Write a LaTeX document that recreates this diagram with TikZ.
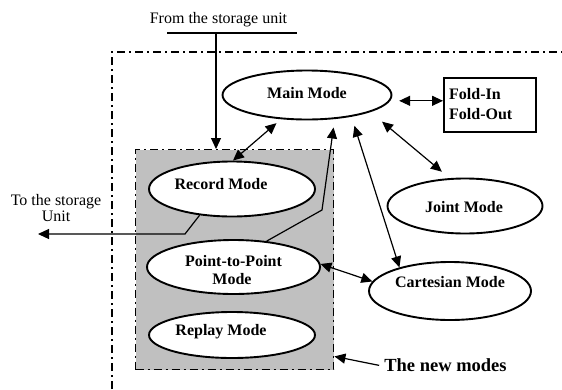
\documentclass[tikz,border=0pt]{standalone}
\usepackage{fontspec}
\setmainfont{Liberation Serif}
\usetikzlibrary{arrows.meta,shapes.geometric,calc}
\definecolor{shade}{RGB}{192,192,192}
\begin{document}
\begin{tikzpicture}[x=1pt,y=-1pt,
  font=\fontsize{16}{19}\selectfont,
  mode/.style={ellipse, draw, line width=1.9pt, fill=white, inner sep=0pt},
  txt/.style={anchor=base, inner sep=0pt, font=\fontsize{16}{19}\selectfont\bfseries},
  plain/.style={anchor=base, inner sep=0pt},
  conn/.style={line width=1.2pt},
  arr/.style={conn, -{Triangle[length=11pt,width=10pt]}},
  darr/.style={conn, {Triangle[length=11pt,width=10pt]}-{Triangle[length=11pt,width=10pt]}},
  dashdot/.style={dash pattern=on 8pt off 4pt on 2pt off 4pt, line width=1.4pt}
]
\useasboundingbox (0,0) rectangle (562,389);

% outer frame (only left and top edges visible)
\draw[dashdot] (112,389) -- (112,52) -- (562,52);

% shaded region of new modes
\node[draw, dashdot, fill=shade, minimum width=198pt, minimum height=220pt, inner sep=0pt, anchor=north west] (newbox) at (135,149) {};

% ellipses
\node[mode, minimum width=169pt, minimum height=49pt] (main) at (307,95) {};
\node[mode, minimum width=166pt, minimum height=55pt] (rec) at (232,189) {};
\node[mode, minimum width=173pt, minimum height=54pt] (ptp) at (233.5,267) {};
\node[mode, minimum width=166pt, minimum height=46pt] (rep) at (232,335) {};
\node[mode, minimum width=155pt, minimum height=55pt] (joint) at (465,206) {};
\node[mode, minimum width=162pt, minimum height=58pt] (cart) at (450,291) {};

% fold box
\node[draw, line width=1.9pt, minimum width=92pt, minimum height=54pt, inner sep=0pt, anchor=north west] (fold) at (443,77) {};

% texts
\node[txt] (mainT) at (307,98) {Main Mode};
\node[txt] (recT) at (221,189) {Record Mode};
\node[txt] (ptpT1) at (233.5,266) {Point-to-Point};
\node[txt] (ptpT2) at (232,284) {Mode};
\node[txt] (repT) at (221,335) {Replay Mode};
\node[txt] (jointT) at (464,212) {Joint Mode};
\node[txt] (cartT) at (450,287) {Cartesian Mode};
\node[txt, anchor=base west] (foldin) at (449,99) {Fold-In};
\node[txt, anchor=base west] (foldout) at (449,119) {Fold-Out};
\node[plain] (fromT) at (218.5,23.3) {From the storage unit};
\node[plain] (toT1) at (56,205) {To the storage};
\node[plain] (toT2) at (56,221.7) {Unit};
\node[anchor=base, inner sep=0pt, font=\fontsize{18.5}{22}\selectfont\bfseries] (newT) at (445.5,371.7) {The new modes};

% from the storage unit
\coordinate (fl) at (167,33);
\coordinate (fr) at (297,33);
\coordinate (fj) at (216,33);
\draw[conn] (fl) -- (fr);
\draw[arr] (fj) -- (fj |- newbox.north);

% connectors to main mode
\draw[darr, shorten <=6pt] (main.223) -- (rec.88);
\coordinate (b1) at (322,210);
\draw[arr, shorten >=8.5pt] (ptp.38) -- (b1) -- (main.319);
\draw[darr, shorten <=9.5pt] (main.334) -- (cart.155);
\draw[darr, shorten <=15pt, shorten >=10pt] (main.345) -- (joint.119);
\draw[darr, shorten <=9pt] (main.356) -- (main.356 -| fold.west);

% to the storage unit
\coordinate (b2) at (185,234);
\coordinate (tostore) at (38,234);
\draw[arr] (rec.219) -- (b2) -- (tostore);

% point-to-point <-> cartesian
\draw[darr] (ptp.2) -- (cart.173);

% new modes pointer
\draw[arr] ([xshift=-5pt]newT.west) -- ([yshift=14pt]newbox.south east);
\end{tikzpicture}
\end{document}
